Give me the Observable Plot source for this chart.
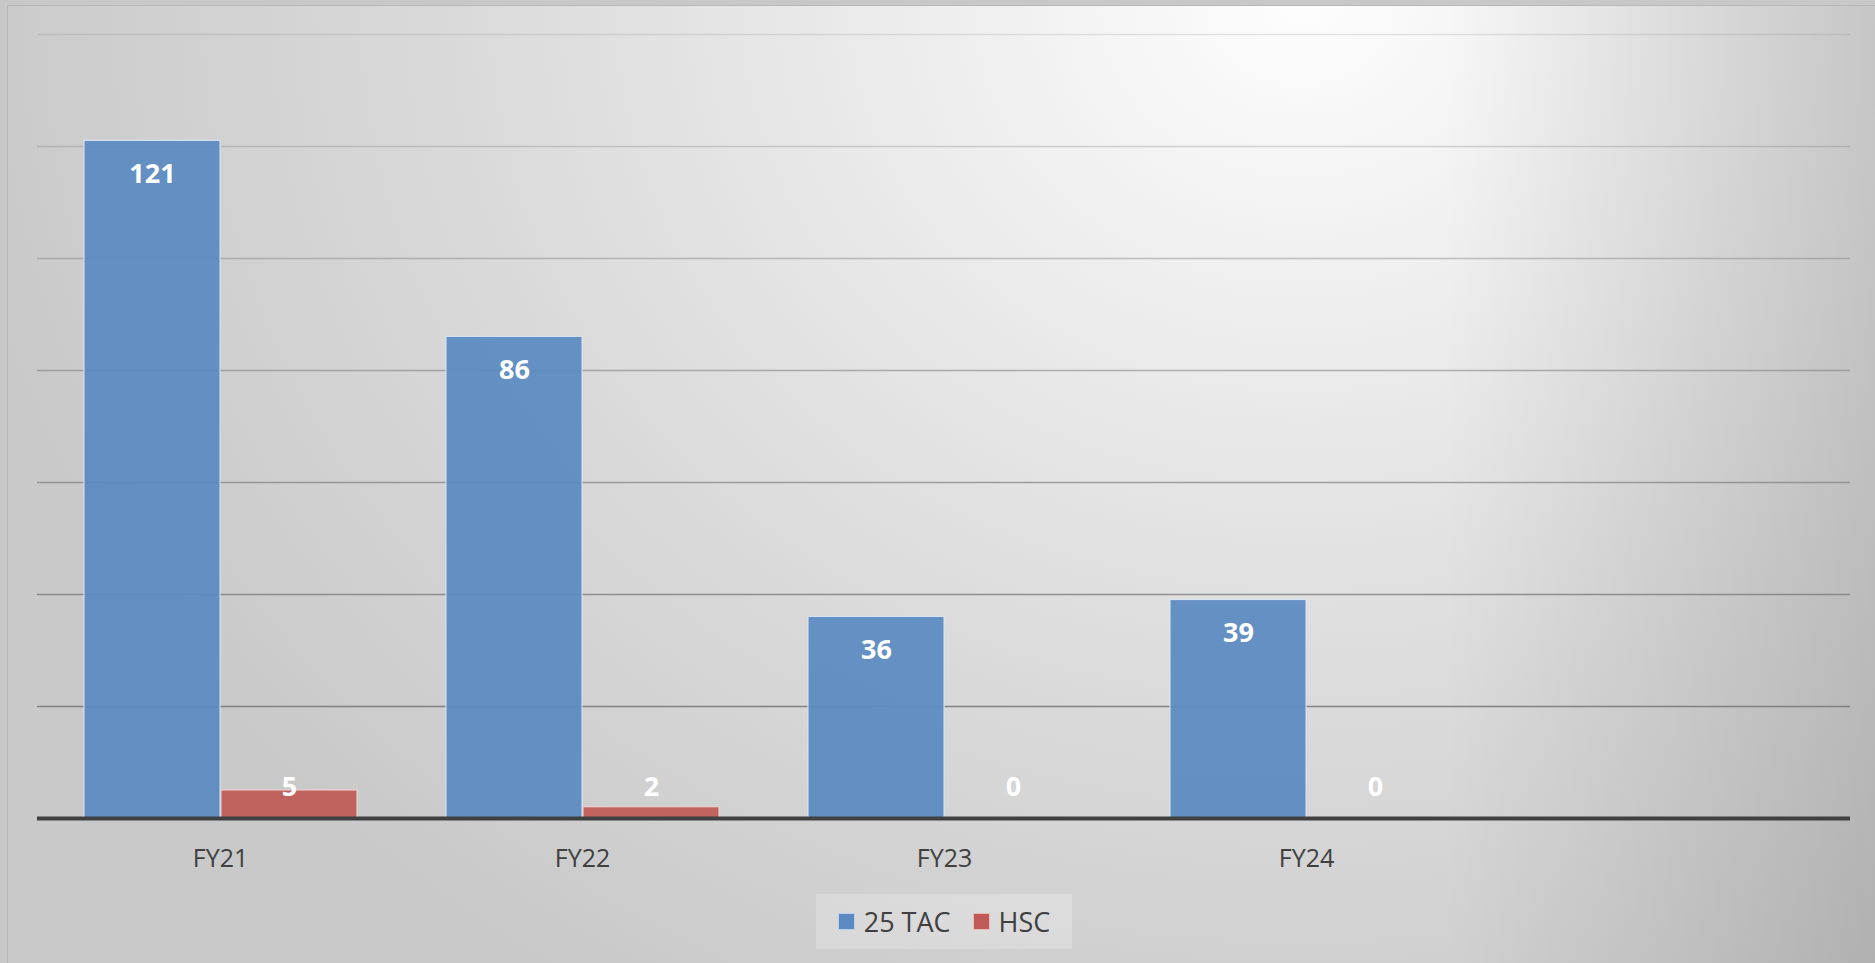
<!DOCTYPE html>
<html>
<head>
<meta charset="utf-8">
<script src="https://cdn.jsdelivr.net/npm/d3@7"></script>
<script src="https://cdn.jsdelivr.net/npm/@observablehq/plot@0.6"></script>
<style>
  html, body { margin: 0; padding: 0; width: 1875px; height: 963px; overflow: hidden; background: #c8c8c8; }
  #frame {
    position: absolute; left: 7px; top: 5px; width: 1890px; height: 980px;
    border: 1.5px solid #b8b8b8;
    background:
      linear-gradient(90deg, rgba(0,0,0,0) 0%, rgba(0,0,0,0) 76%, rgba(0,0,0,0.14) 100%),
      radial-gradient(ellipse 1350px 1150px at 1293px 0px, #fdfdfd 0%, #ececec 30%, #dadada 62%, #c9c9c9 100%);
  }
  #chart { position: absolute; left: 0; top: 0; }
  #legend {
    position: absolute; left: 816px; top: 894px; width: 256px; height: 55px;
    background: rgba(255,255,255,0.22);
    display: flex; align-items: center; justify-content: center; gap: 22px;
    font-family: "Open Sans", sans-serif; font-size: 27px; color: #404040;
  }
  .item { display: flex; align-items: center; gap: 9px; }
  .sw { width: 17px; height: 17px; box-sizing: border-box; border: 1px solid rgba(255,255,255,0.6); }
</style>
</head>
<body>
<div id="frame"></div>
<div id="chart"></div>
<div id="legend"></div>
<script>
// ---- data ----
const categories = ["FY21", "FY22", "FY23", "FY24", ""];
const seriesNames = ["25 TAC", "HSC"];
const tacValues = [121, 86, 36, 39];
const hscValues = [5, 2, 0, 0];
const gridValues = [20, 40, 60, 80, 100, 120, 140];
const seriesColors = ["#5B8AC2", "#BF5A56"];

const tac = tacValues.map((v, i) => ({cat: categories[i], series: seriesNames[0], value: v}));
const hsc = hscValues.map((v, i) => ({cat: categories[i], series: seriesNames[1], value: v}));

const chart = Plot.plot({
  width: 1875,
  height: 880,
  marginLeft: 37,
  marginRight: 25,
  marginTop: 34,
  marginBottom: 62,
  style: {background: "transparent", fontFamily: "'Open Sans', sans-serif", overflow: "visible"},
  x: {domain: categories, paddingInner: 0, paddingOuter: 0, axis: null},
  y: {domain: [0, 140], axis: null},
  marks: [
    Plot.ruleY(gridValues, {
      stroke: "#7a7a7a",
      strokeWidth: 1.5,
      strokeOpacity: d => 0.18 + 0.72 * (140 - d) / 120
    }),
    Plot.barY(tac, {
      x: "cat", y: "value", fill: seriesColors[0], fillOpacity: 0.93,
      stroke: "#dbe6f3", strokeWidth: 1, insetLeft: 45, insetRight: 181
    }),
    Plot.barY(hsc, {
      x: "cat", y: "value", fill: seriesColors[1], fillOpacity: 0.93,
      stroke: "#f0d8d7", strokeWidth: 1, insetLeft: 182, insetRight: 44
    }),
    Plot.ruleY([0], {stroke: "#404040", strokeWidth: 4}),
    Plot.axisX({
      tickSize: 0, tickPadding: 31, fontSize: 25, fill: "#404040", label: null
    }),
    Plot.text(tac, {
      x: "cat", y: "value", text: d => String(d.value), dx: -68, dy: 33,
      fill: "white", fontWeight: "bold", fontSize: 27
    }),
    Plot.text(hsc, {
      x: "cat", y: 0, text: d => String(d.value), dx: 69, dy: -31,
      fill: "white", fontWeight: "bold", fontSize: 27
    })
  ]
});
document.getElementById("chart").appendChild(chart);

// legend
const legend = document.getElementById("legend");
seriesNames.forEach((name, i) => {
  const item = document.createElement("div");
  item.className = "item";
  const sw = document.createElement("div");
  sw.className = "sw";
  sw.style.background = seriesColors[i];
  const label = document.createElement("span");
  label.textContent = name;
  item.appendChild(sw);
  item.appendChild(label);
  legend.appendChild(item);
});
</script>
</body>
</html>
